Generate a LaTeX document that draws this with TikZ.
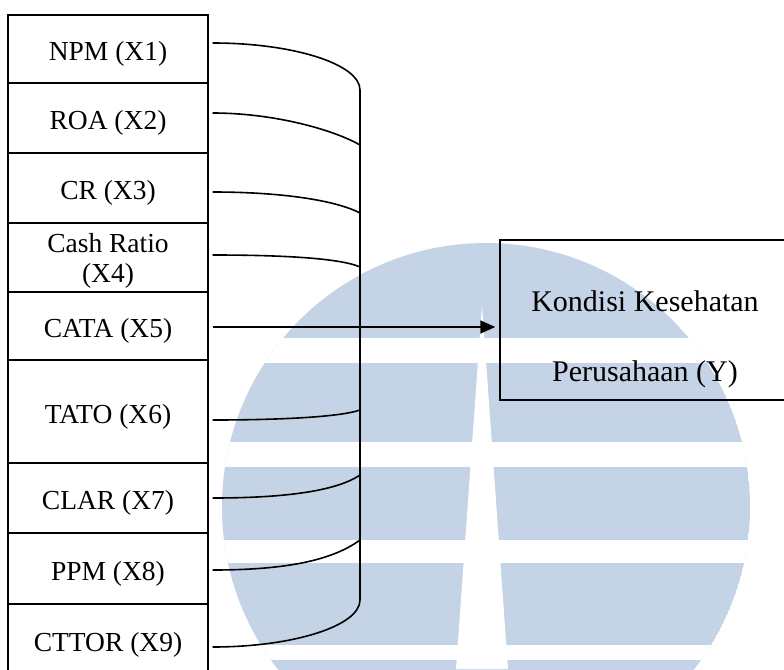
\documentclass[tikz,border=0pt]{standalone}
\usepackage{fontspec}
\setmainfont{Liberation Serif}
\usetikzlibrary{arrows.meta}
\definecolor{wm}{RGB}{197,211,231}
\begin{document}
\begin{tikzpicture}[x=1pt,y=-1pt,
  xbox/.style={draw, line width=1.4pt, minimum width=200pt, inner sep=0pt,
    font=\fontsize{27.5}{30}\selectfont, text height=23pt, text depth=0pt},
  ybox/.style={draw, line width=1.4pt, minimum width=290pt, minimum height=160pt, inner sep=0pt},
  conn/.style={line width=1.6pt},
  wmfill/.style={fill=wm},
]
\useasboundingbox (0,0) rectangle (784,669);
% watermark
\begin{scope}
  \clip (486,507) circle (264);
  \fill[wmfill] (486,507) circle (264);
  \fill[white] (0,338) rectangle (784,363);
  \fill[white] (0,442) rectangle (784,467);
  \fill[white] (0,540) rectangle (784,563);
  \fill[white] (0,645) rectangle (784,660);
  \fill[white] (482,305) -- (508,669) -- (456,669) -- cycle;
\end{scope}
% left column
\node[xbox, minimum height=68pt] (x1) at (108,49) {NPM (X1)};
\node[xbox, minimum height=70pt] (x2) at (108,118) {ROA (X2)};
\node[xbox, minimum height=70pt] (x3) at (108,188) {CR (X3)};
\node[xbox, minimum height=69pt] (x4) at (108,257.5) {};
\node[font=\fontsize{27.5}{30}\selectfont, align=center] (x4t) at (108,261.3) {Cash Ratio\\(X4)};
\node[xbox, minimum height=68pt] (x5) at (108,326) {CATA (X5)};
\node[xbox, minimum height=103pt] (x6) at (108,411.5) {TATO (X6)};
\node[xbox, minimum height=70pt] (x7) at (108,498) {CLAR (X7)};
\node[xbox, minimum height=71pt] (x8) at (108,568.5) {PPM (X8)};
\node[xbox, minimum height=72pt] (x9) at (108,640) {CTTOR (X9)};
% right box
\node[ybox] (y) at (645,320) {};
\node[font=\fontsize{30}{70}\selectfont, align=center] (yt) at (645,339.7) {Kondisi Kesehatan\\Perusahaan (Y)};
% bus coordinates
\coordinate (b1) at (360,90);
\coordinate (b2) at (360,145);
\coordinate (b3) at (360,213);
\coordinate (b4) at (360,267);
\coordinate (b6) at (360,410);
\coordinate (b7) at (360,475);
\coordinate (b8) at (360,540);
\coordinate (b9) at (360,600);
% connectors
\draw[conn] ([shift={(4,-6)}]x1.east) .. controls (293,43) and (360,64) .. (b1)
  -- (b9) .. controls (360,626) and (293,647) .. ([shift={(4,7)}]x9.east);
\draw[conn] ([shift={(4,-5)}]x2.east) .. controls (270,113) and (330,128) .. (b2);
\draw[conn] ([shift={(4,4)}]x3.east) .. controls (280,192) and (335,200) .. (b3);
\draw[conn] ([shift={(4,-2.5)}]x4.east) .. controls (280,255) and (340,258) .. (b4);
\draw[conn] ([shift={(4,8.5)}]x6.east) .. controls (280,420) and (340,417) .. (b6);
\draw[conn] ([shift={(4,0)}]x7.east) .. controls (280,498) and (335,492) .. (b7);
\draw[conn] ([shift={(4,1.5)}]x8.east) .. controls (280,570) and (330,562) .. (b8);
\draw[conn, -{Triangle[length=15pt,width=13pt]}] ([shift={(4,1)}]x5.east) -- ([shift={(-4,7)}]y.west);
\end{tikzpicture}
\end{document}
